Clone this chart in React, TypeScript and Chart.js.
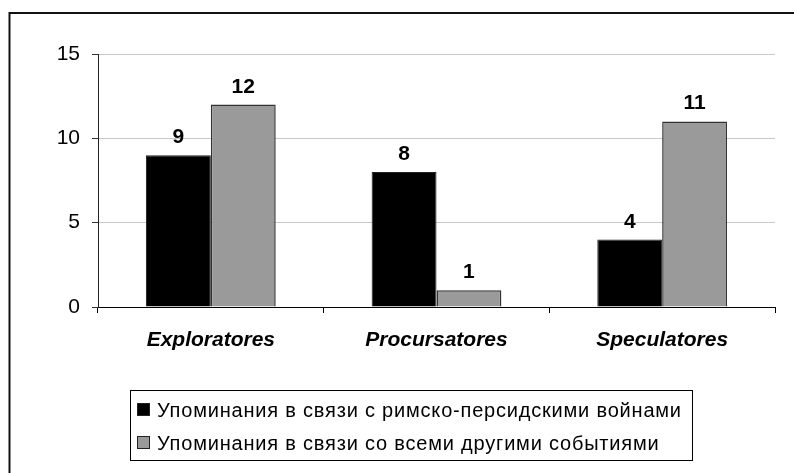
import React, { useEffect, useRef } from "react";
import { Chart, registerables } from "chart.js";

Chart.register(...registerables);

const categories = ["Exploratores", "Procursatores", "Speculatores"];
const seriesNames = [
  "Упоминания в связи с римско-персидскими войнами",
  "Упоминания в связи со всеми другими событиями",
];
const persianWars = [9, 8, 4];
const otherEvents = [12, 1, 11];
const yTicks = [0, 5, 10, 15];

const FONT = "'Liberation Sans', Arial, Helvetica, sans-serif";

const decorPlugin = {
  id: "decor",
  afterDatasetsDraw(chart: any) {
    const ctx = chart.ctx;
    ctx.save();
    ctx.font = `bold 21px ${FONT}`;
    ctx.fillStyle = "#000";
    ctx.textAlign = "center";
    ctx.textBaseline = "alphabetic";
    chart.data.datasets.forEach((ds: any, i: number) => {
      const meta = chart.getDatasetMeta(i);
      meta.data.forEach((el: any, j: number) => {
        ctx.fillText(String(ds.data[j]), el.x, el.y - 12);
      });
    });
    ctx.restore();
  },
  afterDraw(chart: any) {
    const ctx = chart.ctx;
    ctx.save();
    // outer frame (top & left visible)
    ctx.strokeStyle = "#111";
    ctx.lineWidth = 2;
    ctx.beginPath();
    ctx.moveTo(9.5, 474);
    ctx.lineTo(9.5, 13);
    ctx.lineTo(800, 13);
    ctx.stroke();

    // legend box
    ctx.lineWidth = 1;
    ctx.strokeStyle = "#000";
    ctx.strokeRect(130.5, 390.5, 562, 70);
    const rows = [409.5, 442.5];
    chart.data.datasets.forEach((ds: any, i: number) => {
      const cy = rows[i];
      ctx.fillStyle = ds.backgroundColor;
      ctx.fillRect(137, cy - 6.5, 13, 13);
      ctx.strokeStyle = "#222";
      ctx.strokeRect(137.5, cy - 6, 12, 12);
      ctx.fillStyle = "#000";
      ctx.font = `20px ${FONT}`;
      try {
        (ctx as any).letterSpacing = "0.8px";
      } catch (e) {}
      ctx.textAlign = "left";
      ctx.textBaseline = "alphabetic";
      ctx.fillText(ds.label, 157, cy + 7);
      try {
        (ctx as any).letterSpacing = "0px";
      } catch (e) {}
    });
    ctx.restore();
  },
};

function App() {
  const ref = useRef<HTMLCanvasElement | null>(null);
  useEffect(() => {
    if (!ref.current) return;
    const chart = new Chart(ref.current, {
      type: "bar",
      data: {
        labels: categories,
        datasets: [
          {
            label: seriesNames[0],
            data: persianWars,
            backgroundColor: "#000000",
            borderColor: "#222222",
            borderWidth: 1,
          },
          {
            label: seriesNames[1],
            data: otherEvents,
            backgroundColor: "#9a9a9a",
            borderColor: "#333333",
            borderWidth: 1.5,
          },
        ],
      },
      options: {
        responsive: false,
        animation: false,
        devicePixelRatio: 1,
        layout: { padding: { left: 0, right: 19, top: 54, bottom: 0 } },
        datasets: {
          bar: { barPercentage: 1, categoryPercentage: 0.575 },
        },
        plugins: {
          legend: { display: false },
          tooltip: { enabled: false },
        },
        scales: {
          x: {
            grid: {
              display: true,
              drawOnChartArea: false,
              drawTicks: true,
              tickLength: 6,
              color: "#000",
              offset: true,
            },
            border: { display: true, color: "#000", width: 1 },
            ticks: {
              color: "#000",
              padding: 15,
              font: { family: FONT, size: 21, weight: "bold", style: "italic" },
            },
            afterFit(scale: any) {
              scale.height = 166;
            },
          },
          y: {
            min: 0,
            max: 15,
            afterBuildTicks(scale: any) {
              scale.ticks = yTicks.map((v) => ({ value: v }));
            },
            grid: {
              color: (c: any) => (c.tick && c.tick.value === 0 ? "rgba(0,0,0,0)" : "#c8c8c8"),
              tickColor: "#333",
              tickLength: 6,
              drawTicks: true,
            },
            border: { display: true, color: "#222", width: 1 },
            ticks: {
              color: "#000",
              padding: 12,
              font: { family: FONT, size: 21 },
            },
            afterFit(scale: any) {
              scale.width = 98;
            },
          },
        },
      },
      plugins: [decorPlugin],
    });
    return () => chart.destroy();
  }, []);

  return (
    <div style={{ position: "absolute", left: 0, top: 0, width: 794, height: 473, background: "#fff" }}>
      <canvas ref={ref} width={794} height={473} style={{ display: "block" }} />
    </div>
  );
}

export default App;
